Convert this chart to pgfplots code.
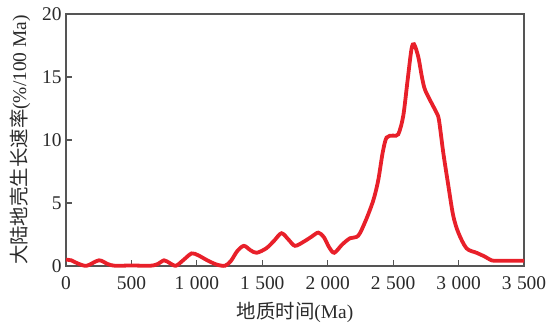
\documentclass[border=0pt]{standalone}
\usepackage{pgfplots}
\pgfplotsset{compat=1.18}
\usepackage{fontspec}
\setmainfont{Liberation Serif}
\newfontfamily\cjk{Noto Sans CJK SC}
\definecolor{curvered}{HTML}{E8202A}
\definecolor{axgray}{HTML}{555555}
\definecolor{txt}{HTML}{2A2A2A}
\begin{document}
\begin{tikzpicture}
\begin{axis}[
  scale only axis,
  width=458bp, height=252bp,
  xmin=0, xmax=3500, ymin=0, ymax=20,
  xtick={0,500,...,3500}, ytick={0,5,10,15,20},
  tick pos=left, tick align=inside,
  major tick length=6bp,
  axis line style={axgray, line width=1.2bp},
  every tick/.style={axgray, line width=1.2bp},
  /pgf/number format/assume math mode=true,
  /pgf/number format/1000 sep={\hspace{0.28em}},
  tick label style={font=\fontsize{19.5}{21}\selectfont, text=txt},
  xticklabel style={yshift=-7bp},
  yticklabel style={xshift=-1bp},
  clip=false,
  xlabel={{\cjk 地质时间}(Ma)},
  ylabel={{\cjk 大陆地壳生长速率}(\%/100 Ma)},
  label style={font=\fontsize{19.5}{21}\selectfont, text=txt},
  xlabel style={at={(axis description cs:0.5,-0.1825)}, anchor=center},
  ylabel style={at={(axis description cs:-0.1004,0.5)}, anchor=center},
]
\addplot[curvered, line width=3.8bp, smooth, tension=0.5] coordinates {
(0,0.5) (40,0.45) (90,0.2) (158,0.02) (252,0.45) (320,0.15) (374,0.02) (500,0.04) (642,0.02)
(700,0.15) (749,0.45) (790,0.25) (840,0.02) (900,0.5) (960,1.0) (1010,0.85) (1080,0.45)
(1150,0.12) (1215,0.02) (1260,0.4) (1310,1.2) (1360,1.6) (1410,1.25) (1457,1.05) (1530,1.4)
(1590,2.0) (1647,2.6) (1700,2.1) (1750,1.6) (1820,1.95) (1880,2.35) (1928,2.65) (1970,2.3)
(2010,1.5) (2050,1.05) (2110,1.7) (2170,2.2) (2233,2.4) (2290,3.6) (2348,5.2) (2386,6.8)
(2420,9.0) (2450,10.2) (2500,10.35) (2539,10.45) (2577,11.9) (2610,14.7) (2640,17.2)
(2660,17.6) (2692,16.6) (2720,15.0) (2743,14.0) (2790,13.0) (2830,12.2) (2850,11.6)
(2883,9.0) (2920,6.5) (2959,4.0) (3000,2.6) (3061,1.4) (3137,1.05) (3200,0.75) (3252,0.45)
(3300,0.42) (3500,0.42)
};
\end{axis}
\pgfresetboundingbox
\path[use as bounding box] ([xshift=-66bp,yshift=-61bp]current axis.south west) rectangle ([xshift=35bp,yshift=14bp]current axis.north east);
\end{tikzpicture}
\end{document}
